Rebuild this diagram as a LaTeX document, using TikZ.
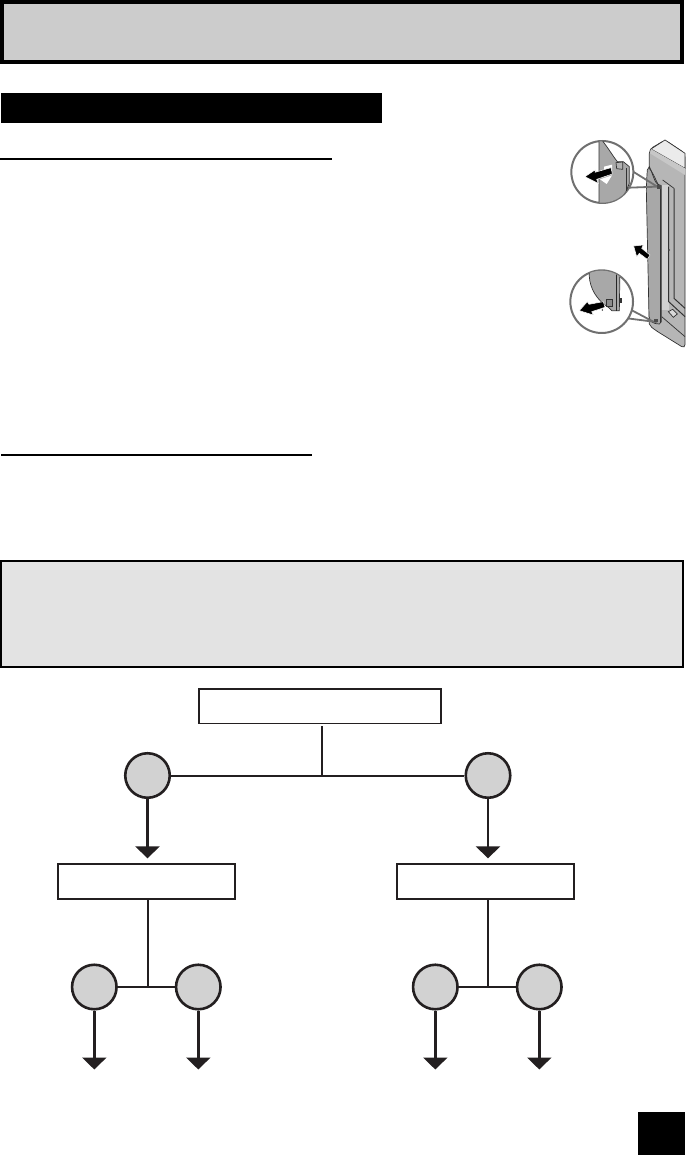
\documentclass[tikz,border=0pt]{standalone}
\usepackage{amsmath, amssymb}
\usetikzlibrary{arrows.meta,calc}

\definecolor{inkdark}{HTML}{231F20}
\definecolor{headgray}{HTML}{CCCCCC}
\definecolor{notegray}{HTML}{E3E3E3}
\definecolor{dotgray}{HTML}{D2D2D2}
\definecolor{bodygray}{HTML}{B6B6B6}
\definecolor{panelgray}{HTML}{A8A8A8}
\definecolor{rimgray}{HTML}{707070}

\tikzset{
	stepbox/.style={draw=inkdark,fill=white,line width=1.8pt,inner sep=0pt,minimum height=34.5pt},
	choice/.style={circle,draw=inkdark,fill=dotgray,line width=2.6pt,inner sep=0pt,minimum size=44.5pt},
	wire/.style={draw=inkdark,line width=2pt},
	feed/.style={draw=inkdark,line width=2.6pt,-{Triangle[length=12pt,width=24pt,fill=inkdark]}},
	lens/.style={draw=rimgray,line width=2pt,fill=white},
	tail/.style={draw=rimgray,line width=1.8pt},
	edge/.style={draw=black!80,line width=.7pt},
	push/.style={fill=black,draw=white,line width=.5pt}
}

\begin{document}
\begin{tikzpicture}[x=1pt,y=-1pt]
	\useasboundingbox (0,0) rectangle (685,1155);
	% page furniture
	\draw[fill=headgray,line width=4pt] (2,2) rectangle (682,62);
	\fill (1,93) rectangle (382,123);
	\fill (0,158) rectangle (332,160);
	\fill (1,454) rectangle (312,456);
	\draw[fill=notegray,line width=2pt] (1,561) rectangle (683,667);
	\fill (638,1112) rectangle (685,1155);

	% illustration, traced in thirds of a pixel
	\begin{scope}[shift={(540,120)},x=1/3*1pt,y=-1/3*1pt]
		\draw[edge,fill=bodygray,rounded corners=4pt] (328,88) -- (375,60) -- (435,100) -- (435,686) -- (345,630)
			.. controls (335,622) and (328,612) .. (328,600) -- cycle;
		\draw[edge,fill=black!8] (333,87) -- (375,60) -- (435,100) -- (435,145) -- cycle;
		\fill[black!22] (333,87) -- (435,145) -- (435,165) -- (330,100) -- cycle;
		\fill[black!18] (364,195) rectangle (386,570);
		\draw[edge,line width=1pt] (386,200) -- (386,545) -- (435,590);
		\draw[edge,line width=1pt] (402,205) -- (402,535) -- (435,565);
		\draw[edge] (368,180) -- (402,205);
		\draw[edge] (365,590) -- (435,650);
		\fill[black!70] (387,390) circle (3);
		\draw[edge,fill=black!15] (385,575) -- (398,568) -- (412,582) -- (400,592) -- cycle;
		\draw[edge,fill=panelgray] (322,150) .. controls (320,170) and (320,190) .. (319,210) -- (327,590)
			.. controls (330,605) and (340,612) .. (358,612) -- (364,605) -- (364,197) -- (352,192)
			.. controls (340,180) and (335,150) .. (328,140) -- cycle;
		\draw[edge,line width=1.2pt] (362,200) -- (362,610);
		\draw[edge] (328,145) .. controls (340,160) and (345,175) .. (355,195);
		\draw[tail] (281,156) -- (352,200) -- (268,203);
		\draw[tail] (270,568) -- (340,605) -- (262,595);
		\fill[black!70] (351,196) rectangle (362,206);
		\fill[black!70] (343,597) rectangle (355,607);

		% upper lens
		\draw[lens] (187,156) circle (93);
		\begin{scope}
			\clip (187,156) circle (92);
			\draw[edge,fill=panelgray] (177,50) -- (190,66) .. controls (205,85) and (220,110) .. (232,125)
				-- (250,125) -- (268,140) -- (268,190) -- (258,215) -- (225,260) -- (177,260) -- cycle;
			\draw[edge,fill=black!30] (228,128) -- (248,126) -- (248,148) -- (230,146) -- cycle;
			\draw[edge] (258,145) -- (258,215);
		\end{scope}
		\fill[white] (192,140) -- (216,134) -- (216,158) -- (192,164) -- cycle;
		\fill[white] (180,178) -- (216,166) -- (200,192) -- cycle;
		\fill[push] (135,170) -- (165,150) -- (165,157) -- (213,143) -- (217,162) -- (170,178) -- (175,190) -- cycle;

		% lower lens
		\draw[lens] (185,545) circle (94);
		\begin{scope}
			\clip (185,545) circle (93);
			\draw[edge,fill=panelgray] (148,440) -- (148,470) .. controls (150,505) and (170,540) .. (205,562)
				-- (215,572) -- (238,572) -- (240,440) -- cycle;
			\fill[black!85] (228,460) rectangle (232,572);
			\draw[edge,fill=black!45] (200,537) -- (218,537) -- (218,558) -- (200,558) -- cycle;
			\fill[black!80] (238,535) rectangle (245,550);
		\end{scope}
		\fill[push] (118,572) -- (142,545) -- (147,553) -- (190,545) -- (195,562) -- (155,575) -- (160,585) -- cycle;
		\fill[black] (187,570) circle (2);

		% middle arrow
		\fill[push] (281,378) -- (310,375) -- (305,385) -- (330,405) -- (322,418) -- (298,400) -- (290,410) -- cycle;
	\end{scope}

	% tree of choices
	\node[stepbox,minimum width=242pt] (top) at (320.2,706.2) {};
	\node[choice] (dotL) at (147.5,775.5) {};
	\node[choice] (dotR) at (488,775.5) {};
	\coordinate (J) at (322,775.5);
	\node[stepbox,minimum width=177pt] (boxL) at (146.5,881.5) {};
	\node[stepbox,minimum width=177pt] (boxR) at (485.7,881.5) {};
	\node[choice] (dotLa) at (94.3,987) {};
	\node[choice] (dotLb) at (198.3,987) {};
	\node[choice] (dotRa) at (435.3,987) {};
	\node[choice] (dotRb) at (539.3,987) {};
	\coordinate (JL) at (147.7,987);
	\coordinate (JR) at (488,987);
	\coordinate (endLa) at (94.3,1069.5);
	\coordinate (endLb) at (198.3,1069.5);
	\coordinate (endRa) at (435.3,1069.5);
	\coordinate (endRb) at (539.3,1069.5);

	\draw[wire,shorten <=2pt] (top.south -| J) -- (J);
	\draw[wire] (dotL) -- (dotR);
	\draw[feed,shorten >=5pt] (dotL) -- (dotL |- boxL.north);
	\draw[feed,shorten >=5pt] (dotR) -- (dotR |- boxR.north);
	\draw[wire,line width=2.4pt] (boxL.south -| JL) -- (JL);
	\draw[wire,line width=2.4pt] (boxR.south -| JR) -- (JR);
	\draw[wire] (dotLa) -- (dotLb);
	\draw[wire] (dotRa) -- (dotRb);
	\draw[feed] (dotLa) -- (endLa);
	\draw[feed] (dotLb) -- (endLb);
	\draw[feed] (dotRa) -- (endRa);
	\draw[feed] (dotRb) -- (endRb);
\end{tikzpicture}
\end{document}
